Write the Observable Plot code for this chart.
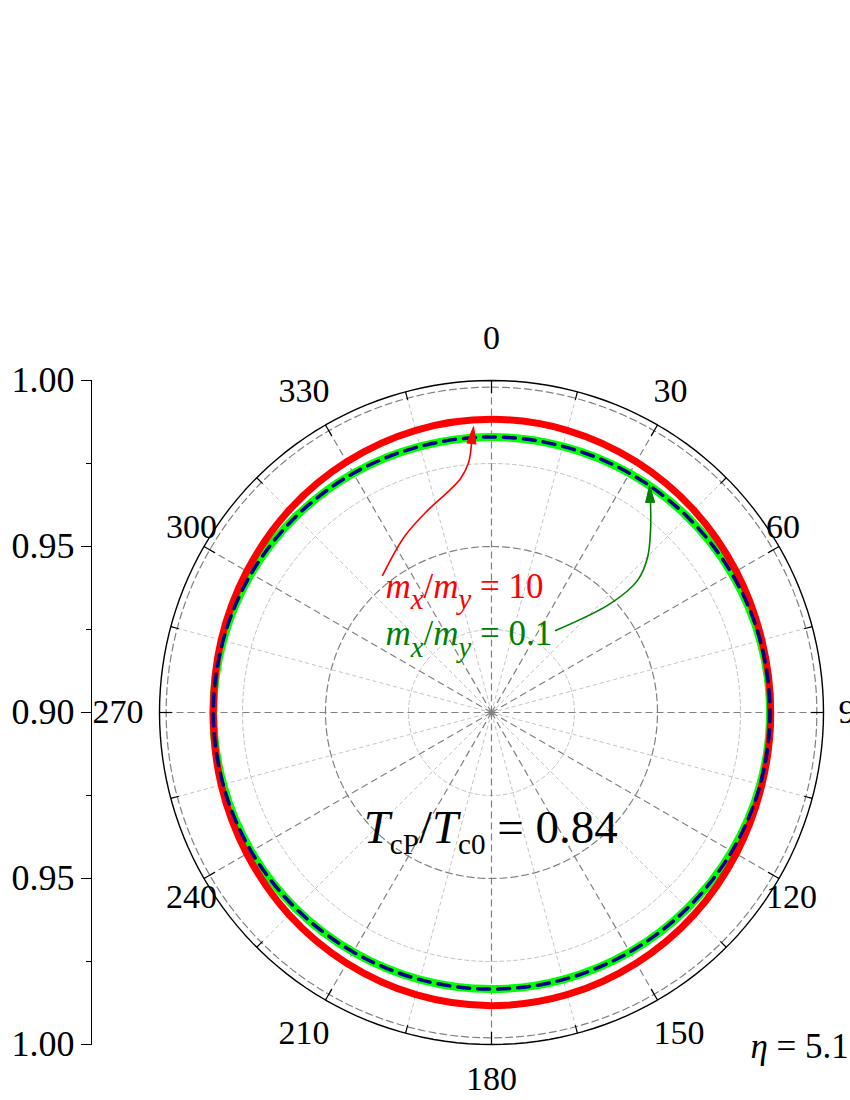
<!DOCTYPE html>
<html>
<head>
<meta charset="utf-8">
<script src="https://cdn.jsdelivr.net/npm/d3@7"></script>
<script src="https://cdn.jsdelivr.net/npm/@observablehq/plot@0.6"></script>
<style>
  html, body { margin: 0; padding: 0; background: #fff; }
  #chart { width: 850px; height: 1100px; overflow: hidden; }
</style>
</head>
<body>
<div id="chart"></div>
<script>
// ---------------- data ----------------
const radialMin = 0.90;          // value at the centre
const radialMax = 1.00;          // value at the outer circle
const angles = [0, 15, 30, 45, 60, 75, 90, 105, 120, 135, 150, 165,
                180, 195, 210, 225, 240, 255, 270, 285, 300, 315, 330, 345];
// m_x/m_y = 10 (red)
const redSeries = [0.9883, 0.9880, 0.9872, 0.9862, 0.9851, 0.9843, 0.9841, 0.9843, 0.9851, 0.9862, 0.9872, 0.9880,
                   0.9883, 0.9880, 0.9872, 0.9862, 0.9851, 0.9843, 0.9838, 0.9843, 0.9851, 0.9862, 0.9872, 0.9880];
// m_x/m_y = 0.1 (green)
const greenSeries = [0.9830, 0.9830, 0.9832, 0.9834, 0.9836, 0.9838, 0.9839, 0.9838, 0.9836, 0.9834, 0.9833, 0.9833,
                     0.9833, 0.9833, 0.9833, 0.9834, 0.9836, 0.9837, 0.9838, 0.9837, 0.9836, 0.9834, 0.9832, 0.9830];
// blue dashed curve
const blueSeries = [0.9830, 0.9830, 0.9832, 0.9834, 0.9836, 0.9838, 0.9839, 0.9838, 0.9836, 0.9834, 0.9833, 0.9833,
                    0.9833, 0.9833, 0.9833, 0.9834, 0.9836, 0.9837, 0.9838, 0.9837, 0.9836, 0.9834, 0.9832, 0.9830];

const angleLabels = [0, 30, 60, 90, 120, 150, 180, 210, 240, 270, 300, 330];
const minorSpokes = [15, 45, 75, 105, 135, 165, 195, 225, 255, 285, 315, 345];
const majorRings = [0.95, 0.998];
const minorRings = [0.925, 0.975];
const radialMajorTicks = [0.90, 0.95, 1.00];
const radialMinorTicks = [0.925, 0.975];

// annotations (positions in chart units: offset from centre, in radial units)
const annotationTexts = ["m_x/m_y = 10", "m_x/m_y = 0.1", "T_cP/T_c0 = 0.84", "η = 5.1"];
const annotationX = [-0.0319, -0.0319, -0.0385, 0.0780];
const annotationY = [0.0346, 0.0202, -0.0392, -0.1042];
const redArrowX = [-0.0328, -0.0262, -0.0193, -0.0133, -0.0093, -0.0069, -0.0060];
const redArrowY = [0.0413, 0.0530, 0.0608, 0.0663, 0.0705, 0.0753, 0.0813];
const redArrowTip = [-0.0054, 0.0861];
const greenArrowX = [0.0193, 0.0358, 0.0440, 0.0470, 0.0479, 0.0479];
const greenArrowY = [0.0247, 0.0328, 0.0398, 0.0467, 0.0548, 0.0630];
const greenArrowTip = [0.0476, 0.0684];

// ---------------- helpers ----------------
const rad = d => d * Math.PI / 180;
const polar = (deg, v) => ({x: (v - radialMin) * Math.sin(rad(deg)), y: (v - radialMin) * Math.cos(rad(deg))});
const seriesPoints = vals => angles.map((a, i) => polar(a, vals[i]));
const ringPoints = v => d3.range(0, 361, 2).map(a => polar(a, v));
const ringRows = vals => vals.flatMap(v => ringPoints(v).map(p => ({...p, ring: v})));

const yMajor = Array.from(new Set(radialMajorTicks.flatMap(v => [v - radialMin, -(v - radialMin)]))).sort((a, b) => a - b);
const yMinor = radialMinorTicks.flatMap(v => [v - radialMin, -(v - radialMin)]).sort((a, b) => a - b);

const outerTicks = d3.range(0, 360, 15);

const headShape = {
  draw(context, l, r) {
    context.moveTo(0, -l);
    context.lineTo(-r, 0);
    context.lineTo(r, 0);
    context.closePath();
  }
};

// angular label placement (styling)
const labelPlace = {
  0:   {textAnchor: "middle", dx: 0,   dy: -42},
  30:  {textAnchor: "start",  dx: -4,  dy: -34},
  60:  {textAnchor: "start",  dx: -13, dy: -19},
  90:  {textAnchor: "start",  dx: 15,  dy: 0},
  120: {textAnchor: "start",  dx: -13, dy: 19},
  150: {textAnchor: "start",  dx: -4,  dy: 33},
  180: {textAnchor: "middle", dx: 0,   dy: 35},
  210: {textAnchor: "end",    dx: 4,   dy: 33},
  240: {textAnchor: "end",    dx: 13,  dy: 19},
  270: {textAnchor: "end",    dx: -16, dy: 0},
  300: {textAnchor: "end",    dx: 13,  dy: -19},
  330: {textAnchor: "end",    dx: 4,   dy: -34}
};

const annotations = annotationTexts.map((t, i) => ({text: t, x: annotationX[i], y: annotationY[i]}));
const annStyle = [
  {fill: "#ff0000", fontSize: 35, sub: [0.82, 0.33]},
  {fill: "#008000", fontSize: 35, sub: [0.82, 0.33]},
  {fill: "#000000", fontSize: 47, sub: [0.62, 0.25]},
  {fill: "#000000", fontSize: 35, sub: [0.7, 0.25]}
];

const serif = '"Liberation Serif", "Times New Roman", serif';

const plot = Plot.plot({
  width: 850,
  height: 1100,
  marginLeft: 91,
  marginRight: 0,
  marginTop: 380,
  marginBottom: 56,
  x: {domain: [-(radialMax - radialMin), radialMax - radialMin], range: [159, 823], axis: null},
  y: {domain: [-(radialMax - radialMin), radialMax - radialMin]},
  style: {fontFamily: serif, fontSize: "34px", color: "black", background: "white", overflow: "hidden"},
  marks: [
    // minor spokes
    Plot.link(minorSpokes, {x1: 0, y1: 0, x2: a => polar(a, radialMax).x, y2: a => polar(a, radialMax).y,
      stroke: "#c4c4c4", strokeWidth: 1, strokeDasharray: "4,3"}),
    // minor rings
    Plot.line(ringRows(minorRings), {x: "x", y: "y", z: "ring", stroke: "#c4c4c4", strokeWidth: 1, strokeDasharray: "4,3"}),
    // major spokes
    Plot.link(angleLabels, {x1: 0, y1: 0, x2: a => polar(a, radialMax).x, y2: a => polar(a, radialMax).y,
      stroke: "#808080", strokeWidth: 1.2, strokeDasharray: "7,4"}),
    // major rings
    Plot.line(ringRows(majorRings), {x: "x", y: "y", z: "ring", stroke: "#808080", strokeWidth: 1.2, strokeDasharray: "7,4"}),
    // outer circle
    Plot.line(ringPoints(radialMax), {x: "x", y: "y", stroke: "black", strokeWidth: 1.4}),
    // outer ticks
    Plot.link(outerTicks, {
      x1: a => polar(a, radialMax).x, y1: a => polar(a, radialMax).y,
      x2: a => polar(a, radialMax - (a % 30 === 0 ? 0.0038 : 0.0025)).x,
      y2: a => polar(a, radialMax - (a % 30 === 0 ? 0.0038 : 0.0025)).y,
      stroke: "black", strokeWidth: 1.2}),
    // series
    Plot.line(seriesPoints(greenSeries), {x: "x", y: "y", stroke: "#00ff00", strokeWidth: 8, curve: "catmull-rom-closed"}),
    Plot.line(seriesPoints(redSeries), {x: "x", y: "y", stroke: "#ff0000", strokeWidth: 7, curve: "catmull-rom-closed"}),
    Plot.line(seriesPoints(blueSeries), {x: "x", y: "y", stroke: "#00008b", strokeWidth: 3.5, strokeDasharray: "12,8", curve: "catmull-rom-closed"}),
    // annotation arrows
    Plot.line(redArrowX.map((x, i) => ({x, y: redArrowY[i]})), {x: "x", y: "y", stroke: "#ff0000", strokeWidth: 1.6, curve: "catmull-rom"}),
    Plot.vector([redArrowTip], {x: d => d[0], y: d => d[1], anchor: "end", length: 17, rotate: 7, r: 4.5,
      shape: headShape, fill: "#ff0000", stroke: "#ff0000", strokeWidth: 1}),
    Plot.line(greenArrowX.map((x, i) => ({x, y: greenArrowY[i]})), {x: "x", y: "y", stroke: "#008000", strokeWidth: 1.6, curve: "catmull-rom"}),
    Plot.vector([greenArrowTip], {x: d => d[0], y: d => d[1], anchor: "end", length: 17, rotate: -2, r: 4.5,
      shape: headShape, fill: "#008000", stroke: "#008000", strokeWidth: 1}),
    // annotation texts
    ...annotations.map((d, i) => Plot.text([d], {x: "x", y: "y", text: "text", textAnchor: "start", lineAnchor: "bottom",
      fill: annStyle[i].fill, fontSize: annStyle[i].fontSize})),
    // angle labels
    ...angleLabels.map(a => Plot.text([a], {
      x: d => polar(d, radialMax).x, y: d => polar(d, radialMax).y, text: d => String(d),
      textAnchor: labelPlace[a].textAnchor, dx: labelPlace[a].dx, dy: labelPlace[a].dy,
      lineAnchor: "middle", fontSize: 34, fill: "black"})),
    // left radial axis
    Plot.frame({anchor: "left", stroke: "black", strokeWidth: 1}),
    Plot.axisY({ticks: yMajor, tickFormat: d => (radialMin + Math.abs(d)).toFixed(2), tickSize: 10, tickPadding: 7,
      anchor: "left", label: null, fontSize: 36}),
    Plot.axisY({ticks: yMinor, tickFormat: () => "", tickSize: 5, anchor: "left", label: null})
  ]
});

document.getElementById("chart").append(plot);

// rich text: italics for variables, subscripts after "_"
const svgNS = "http://www.w3.org/2000/svg";
function richify(el, subScale, subShift) {
  const raw = el.textContent;
  const fs = parseFloat(getComputedStyle(el).fontSize);
  while (el.firstChild) el.removeChild(el.firstChild);
  const re = /_([^\/\s]+)|([A-Za-z\u0370-\u03FF])|([^_A-Za-z\u0370-\u03FF]+)/g;
  let m, shifted = false;
  while ((m = re.exec(raw))) {
    const t = document.createElementNS(svgNS, "tspan");
    if (m[1]) {
      t.textContent = m[1];
      t.setAttribute("font-size", (fs * subScale).toFixed(1));
      t.setAttribute("dy", (fs * subShift).toFixed(1));
      if (/^[A-Za-z]$/.test(m[1])) t.setAttribute("font-style", "italic");
      shifted = true;
    } else {
      t.textContent = m[2] || m[3];
      if (m[2]) t.setAttribute("font-style", "italic");
      if (shifted) { t.setAttribute("dy", (-fs * subShift).toFixed(1)); shifted = false; }
    }
    el.appendChild(t);
  }
}
plot.querySelectorAll("text").forEach(el => {
  const i = annotationTexts.indexOf(el.textContent);
  if (i >= 0) richify(el, annStyle[i].sub[0], annStyle[i].sub[1]);
});
</script>
</body>
</html>
